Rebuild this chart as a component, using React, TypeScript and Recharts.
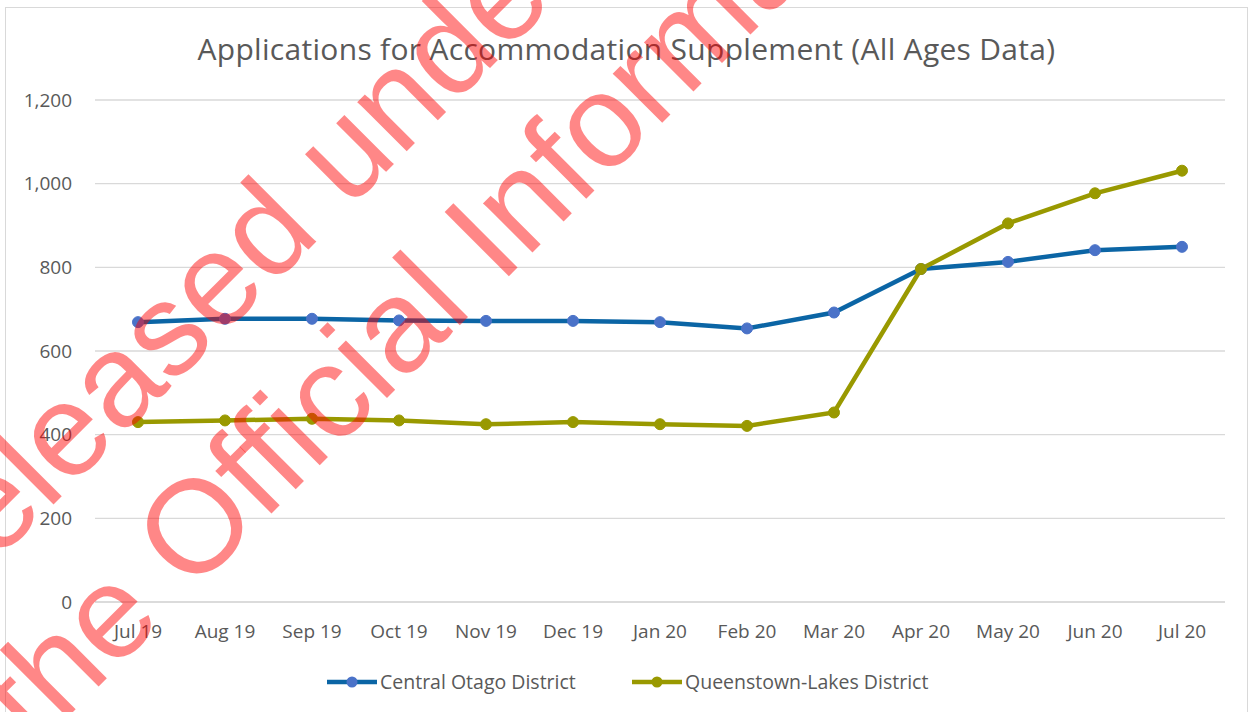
import React from "react";
import { LineChart, Line, XAxis, YAxis, CartesianGrid } from "recharts";

const months = ["Jul 19", "Aug 19", "Sep 19", "Oct 19", "Nov 19", "Dec 19", "Jan 20", "Feb 20", "Mar 20", "Apr 20", "May 20", "Jun 20", "Jul 20"];
const centralOtago = [669, 677, 677, 673, 672, 672, 669, 654, 692, 796, 813, 841, 849];
const queenstownLakes = [430, 434, 438, 434, 425, 430, 425, 421, 453, 796, 905, 977, 1031];
const yTicks = [0, 200, 400, 600, 800, 1000, 1200];

const data = months.map((m, i) => ({ month: m, co: centralOtago[i], ql: queenstownLakes[i] }));

const FONT = "'Open Sans', sans-serif";
const GREY = "#595959";
const BLUE = "#0b65a5";
const BLUE_DOT = "#4a72c8";
const OLIVE = "#999900";

function LegendItem({ x, color, dot, label }: { x: number; color: string; dot: string; label: string }) {
  return (
    <div style={{ position: "absolute", left: x, top: 668, display: "flex", alignItems: "center" }}>
      <svg width={52} height={26}>
        <line x1={1} y1={13} x2={51} y2={13} stroke={color} strokeWidth={4.5} />
        <circle cx={26} cy={13} r={5.5} fill={dot} />
      </svg>
      <span style={{ fontFamily: FONT, fontSize: 19.5, color: GREY, marginLeft: 2 }}>{label}</span>
    </div>
  );
}

export default function App() {
  return (
    <div style={{ position: "absolute", left: 0, top: 0, width: 1253, height: 712, background: "#fff", overflow: "hidden" }}>
      <div style={{ position: "absolute", left: 5, top: 7, width: 1243, height: 712, border: "1px solid #d9d9d9", boxSizing: "border-box" }} />
      <div style={{ position: "absolute", left: 0, top: 28, width: 1253, textAlign: "center", fontFamily: FONT, fontSize: 30, letterSpacing: 0.3, color: GREY }}>
        Applications for Accommodation Supplement (All Ages Data)
      </div>
      <div style={{ position: "absolute", left: 0, top: 0 }}>
        <LineChart width={1253} height={712} data={data} margin={{ top: 100, right: 28, bottom: 50, left: 0 }}>
          <CartesianGrid vertical={false} stroke="#d9d9d9" strokeWidth={1.3} />
          <XAxis
            dataKey="month"
            height={60}
            padding={{ left: 43, right: 43 }}
            axisLine={{ stroke: "#d9d9d9", strokeWidth: 1.3 }}
            tickLine={false}
            tickMargin={17}
            tick={{ fontFamily: FONT, fontSize: 19, fill: GREY }}
            interval={0}
          />
          <YAxis
            width={95}
            domain={[0, 1200]}
            ticks={yTicks}
            axisLine={false}
            tickLine={false}
            tickMargin={17}
            tick={{ fontFamily: FONT, fontSize: 19, fill: GREY }}
            tickFormatter={(v: number) => v.toLocaleString("en-US")}
          />
          <Line dataKey="co" stroke={BLUE} strokeWidth={4.5} dot={{ r: 5.5, fill: BLUE_DOT, stroke: BLUE_DOT, strokeWidth: 1 }} isAnimationActive={false} />
          <Line dataKey="ql" stroke={OLIVE} strokeWidth={4.5} dot={{ r: 5.5, fill: OLIVE, stroke: OLIVE, strokeWidth: 1 }} isAnimationActive={false} />
        </LineChart>
      </div>
      <LegendItem x={326} color={BLUE} dot={BLUE_DOT} label="Central Otago District" />
      <LegendItem x={631} color={OLIVE} dot={OLIVE} label="Queenstown-Lakes District" />
      <svg width={1253} height={712} style={{ position: "absolute", left: 0, top: 0, pointerEvents: "none" }}>
        <g fill="rgba(255,0,0,0.47)" fontFamily="'Liberation Sans', Arial, sans-serif" fontSize={132}>
          <text transform="translate(-72,630) rotate(-45)">Released under</text>
          <text transform="translate(35,750) rotate(-45)">the Official Information Act</text>
        </g>
      </svg>
    </div>
  );
}
